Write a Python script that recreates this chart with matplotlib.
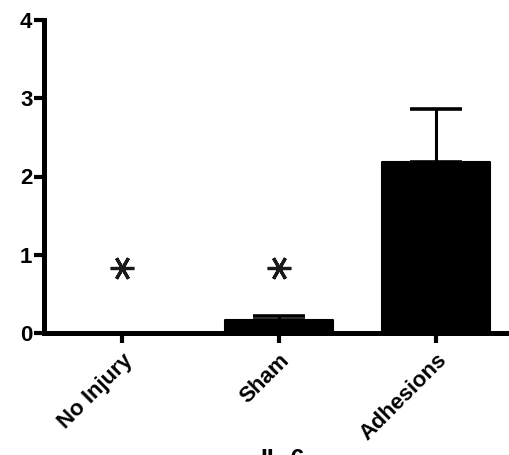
import matplotlib
matplotlib.use("Agg")
import matplotlib.pyplot as plt

categories = ["No Injury", "Sham", "Adhesions"]
means = [0.0, 0.16, 2.19]
sem = [0.0, 0.06, 0.67]
star_groups = [0, 1]
star_level = 0.83
y_ticks = [0, 1, 2, 3, 4]
x_label = "IL-6"

plt.rcParams["font.family"] = ["Liberation Sans", "DejaVu Sans"]

fig = plt.figure(figsize=(5.09, 4.55), dpi=100)
ax = fig.add_axes([43.5 / 509, 122 / 455, (509 - 43.5) / 509, 313 / 455])

x = list(range(len(categories)))
ax.bar(x, means, width=0.69, color="black", edgecolor="black", linewidth=1.5, joinstyle="round")
ax.errorbar(x[1:], means[1:], yerr=[[0] * 2, sem[1:]], fmt="none", ecolor="black",
            elinewidth=2.2, capsize=19, capthick=2.6)

# significance markers
ax.plot(star_groups, [star_level] * len(star_groups), linestyle="none",
        marker=(6, 2, 30), markersize=17, markeredgewidth=2.3, color="#1a1a1a")

ax.set_xlim(-0.5, 2.465)
ax.set_ylim(0, 4)
ax.set_yticks(y_ticks)
ax.set_yticklabels([str(t) for t in y_ticks], fontsize=16, fontweight="bold")
ax.set_xticks(x)
ax.set_xticklabels(categories, rotation=45, ha="right", rotation_mode="anchor",
                   fontsize=16, fontweight="bold")

for side in ["top", "right"]:
    ax.spines[side].set_visible(False)
for side in ["left", "bottom"]:
    ax.spines[side].set_linewidth(3.6)
    ax.spines[side].set_capstyle("projecting")
ax.tick_params(axis="both", length=7, width=3, pad=1)
ax.tick_params(axis="x", pad=5)

fig.text(283 / 509, 7 / 455, x_label, ha="center", va="top", fontsize=18, fontweight="bold")

fig.savefig("out.png", dpi=100)
